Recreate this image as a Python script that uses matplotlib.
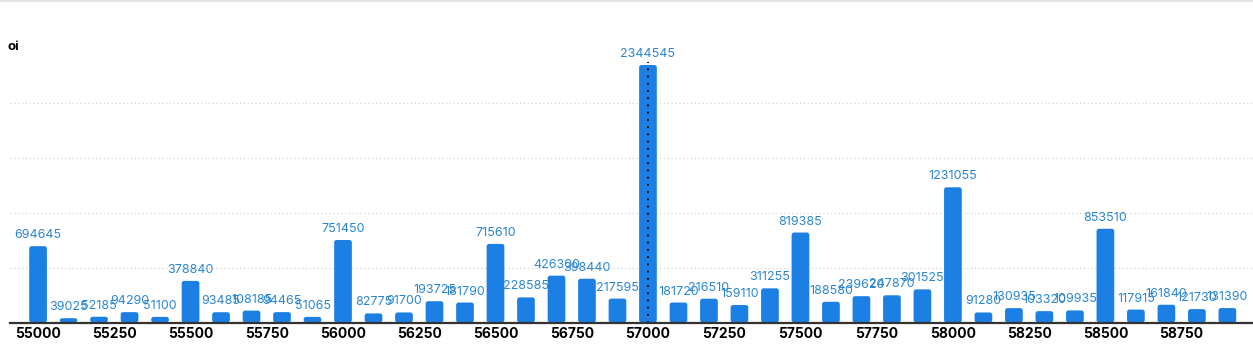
import matplotlib.pyplot as plt
from matplotlib.patches import FancyBboxPatch
from matplotlib.lines import Line2D

strikes = list(range(55000, 59000, 100))
oi = [694645, 39025, 52185, 94290, 51100, 378840, 93485, 108185, 94465, 51065,
      751450, 82775, 91700, 193725, 181790, 715610, 228585, 426300, 398440, 217595,
      2344545, 181720, 216510, 159110, 311255, 819385, 188580, 239620, 247870, 301525,
      1231055, 91280, 130935, 103320, 109935, 853510, 117915, 161840, 121730, 131390]
tick_strikes = list(range(55000, 59000, 250))
marker_strike = 57000

plt.rcParams['font.family'] = ['Inter', 'DejaVu Sans']

W, H = 1253, 347
fig = plt.figure(figsize=(W / 100, H / 100), dpi=100)
ax = fig.add_axes([10 / W, (H - 322.5) / H, 1 - 10 / W, 302 / H])

xmin, xmax = 54908, 58984
ymax = 2.75e6
ax.set_xlim(xmin, xmax)
ax.set_ylim(0, ymax)

bar_w = 58
xu = (xmax - xmin) / (W - 10)
yu = ymax / 302
for s, v in zip(strikes, oi):
    p = FancyBboxPatch((s - bar_w / 2, 0), bar_w, v,
                       boxstyle="round,pad=0,rounding_size=8",
                       mutation_aspect=yu / xu,
                       facecolor="#1b7fe3", edgecolor="none", zorder=3)
    ax.add_patch(p)
    ax.text(s, v + 5 * yu, str(v), ha="center", va="bottom",
            fontsize=9, color="#2b86cf", zorder=4)

# dotted marker on the top strike
mv = oi[strikes.index(marker_strike)]
ax.plot([marker_strike, marker_strike], [0, mv + 3 * yu], ls=(0, (1, 3)),
        color="black", lw=1.3, zorder=5)

for g in [500000, 1000000, 1500000, 2000000]:
    ax.axhline(g, color="#cccccc", lw=0.8, ls=(0, (1, 2.5)), zorder=1)

for sp in ["top", "right", "left"]:
    ax.spines[sp].set_visible(False)
ax.spines["bottom"].set_color("#333333")
ax.spines["bottom"].set_linewidth(1.6)
ax.spines["bottom"].set_zorder(6)

ax.set_yticks([])
ax.set_xticks(tick_strikes)
ax.set_xticklabels([str(t) for t in tick_strikes], fontsize=10, fontweight="bold")
ax.tick_params(axis="x", length=0, pad=3)

fig.text(8 / W, 1 - 47 / H, "oi", fontsize=9.5, fontweight="bold", va="center", ha="left")
fig.add_artist(Line2D([0, 1], [1 - 0.5 / H, 1 - 0.5 / H], color="#e2e2e2", lw=1.2))

fig.savefig("out.png", dpi=100)
